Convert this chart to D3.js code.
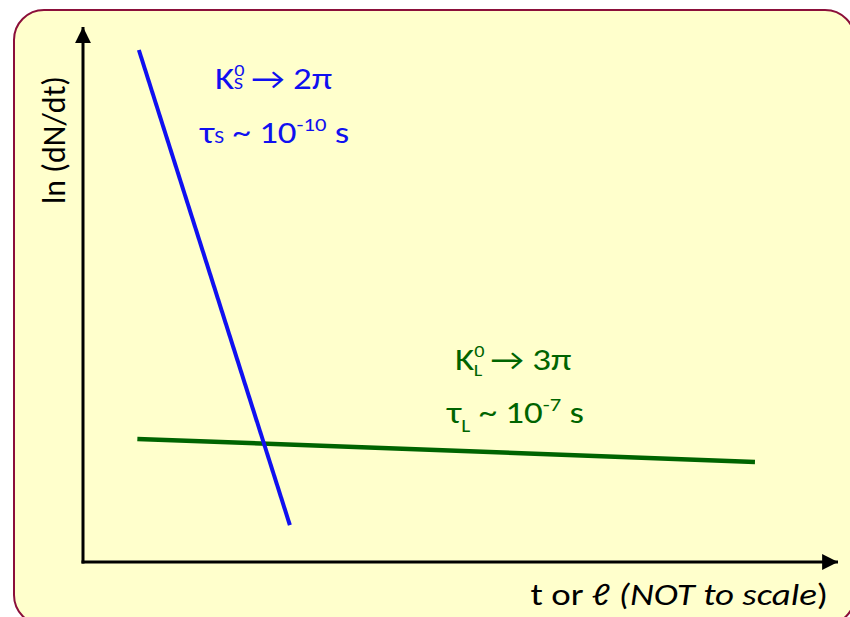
<!DOCTYPE html>
<html lang="en">
<head>
<meta charset="utf-8">
<title>Kaon decay</title>
<script src="https://d3js.org/d3.v7.min.js"></script>
<style>
  body { margin: 0; background: #fff; }
  text { font-family: Carlito, Lato, sans-serif; }
</style>
</head>
<body>
<script>
// arbitrary units, not to scale
var shortLine = [{t: 7.4, v: 95.7}, {t: 27.4, v: 6.9}];
var longLine = [{t: 7.2, v: 23.0}, {t: 89.0, v: 18.7}];
var xLabel = "t or ℓ";
var xLabelNote = "(NOT to scale)";
var yLabel = "ln (dN/dt)";

var width = 850, height = 617;
var stretch = 1.19; // the source picture is a bit wider than tall
var svg = d3.select("body").append("svg")
  .attr("width", width).attr("height", height);

// panel
svg.append("rect")
  .attr("x", 14).attr("y", 10)
  .attr("width", 841).attr("height", 615)
  .attr("rx", 30).attr("ry", 30)
  .attr("fill", "#ffffcc")
  .attr("stroke", "#8b0f3a")
  .attr("stroke-width", 2);

var x = d3.scaleLinear().domain([0, 100]).range([83, 838]);
var y = d3.scaleLinear().domain([0, 100]).range([562, 27]);

var defs = svg.append("defs");
defs.append("marker")
  .attr("id", "arr")
  .attr("viewBox", "0 0 10 10")
  .attr("refX", 10).attr("refY", 5)
  .attr("markerWidth", 5.3).attr("markerHeight", 5.3)
  .attr("markerUnits", "strokeWidth")
  .attr("orient", "auto")
  .append("path").attr("d", "M0,0L10,5L0,10Z").attr("fill", "#000");

// axes
svg.append("line")
  .attr("x1", x(0)).attr("y1", y(0) + 1.5)
  .attr("x2", x(0)).attr("y2", y(100))
  .attr("stroke", "#000").attr("stroke-width", 3)
  .attr("marker-end", "url(#arr)");
svg.append("line")
  .attr("x1", x(0) - 1.5).attr("y1", y(0))
  .attr("x2", x(100)).attr("y2", y(0))
  .attr("stroke", "#000").attr("stroke-width", 3)
  .attr("marker-end", "url(#arr)");

var line = d3.line().x(function (d) { return x(d.t); }).y(function (d) { return y(d.v); });

svg.append("path").datum(longLine)
  .attr("d", line).attr("fill", "none")
  .attr("stroke", "#006400").attr("stroke-width", 4.5);
svg.append("path").datum(shortLine)
  .attr("d", line).attr("fill", "none")
  .attr("stroke", "#1010f0").attr("stroke-width", 4);

function stretched(x0, y0, color, size) {
  return svg.append("text")
    .attr("transform", "translate(" + x0 + "," + y0 + ") scale(" + stretch + ",1)")
    .attr("fill", color).style("font-size", size + "px");
}

// K -> n pi label with stacked super/subscript
function decay(x0, y0, color, sub, subDy, rest) {
  var t = stretched(x0, y0, color, 31);
  t.append("tspan").text("K");
  t.append("tspan").text("0").style("font-size", "17px").attr("dy", -13);
  t.append("tspan").text(sub).style("font-size", "17px").attr("dx", -9).attr("dy", 13 + subDy);
  t.append("tspan").text(" → " + rest).attr("dy", -subDy);
}
// tau ~ 10^n s label
function life(x0, y0, color, sub, subDy, pow) {
  var t = stretched(x0, y0, color, 31);
  t.append("tspan").text("τ");
  t.append("tspan").text(sub).style("font-size", "18px").attr("dy", subDy);
  t.append("tspan").text(" ~ 10").attr("dy", -subDy);
  t.append("tspan").text(pow).style("font-size", "19px").attr("dy", -12);
  t.append("tspan").text(" s").attr("dy", 12);
}

decay(215, 89, "#1010f0", "S", 0, "2π");
life(200, 143, "#1010f0", "S", 0, "-10");
decay(455, 370, "#006400", "L", 6, "3π");
life(447, 423, "#006400", "L", 9, "-7");

// axis labels
var xl = stretched(828, 605, "#000", 31).attr("text-anchor", "end");
xl.append("tspan").text(xLabel + " ");
xl.append("tspan").text(xLabelNote.slice(0, -1)).style("font-style", "italic");
xl.append("tspan").text(xLabelNote.slice(-1));

svg.append("text")
  .attr("transform", "translate(65,140) rotate(-90)")
  .attr("text-anchor", "middle").attr("fill", "#000")
  .style("font-size", "32px")
  .text(yLabel);
</script>
</body>
</html>
